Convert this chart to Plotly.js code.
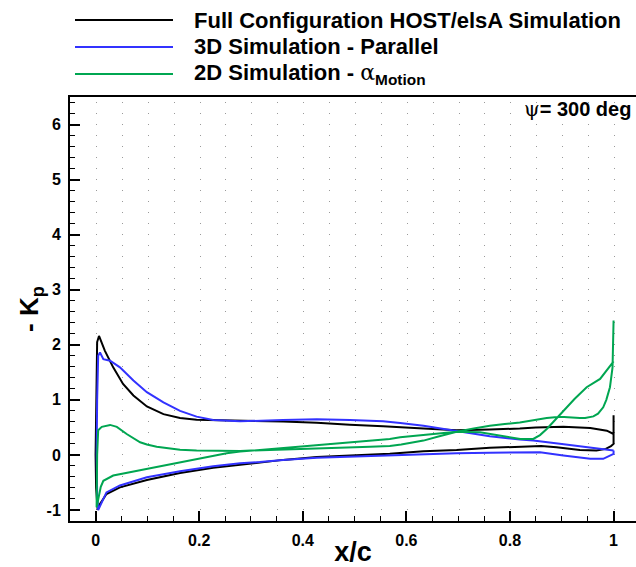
<!DOCTYPE html>
<html>
<head>
<meta charset="utf-8">
<script src="https://cdn.plot.ly/plotly-3.0.1.min.js"></script>
<style>
html,body{margin:0;padding:0;background:#fff;overflow:hidden;}
#chart{width:636px;height:567px;}
</style>
</head>
<body>
<div id="chart"></div>
<script>
// ---- Data ----
const seriesNames = [
  "Full Configuration HOST/elsA Simulation",
  "3D Simulation - Parallel",
  "2D Simulation - α<sub>Motion</sub>"
];

// Full Configuration HOST/elsA Simulation (black): TE -> upper -> LE -> lower -> TE
const xFull = [1.0,0.987,0.955,0.903,0.85,0.819,0.761,0.697,0.633,0.588,0.555,0.491,0.427,0.362,0.298,0.227,0.195,0.163,0.131,0.099,0.073,0.053,0.034,0.018,0.0066,0.003,0.001,0.0,0.001,0.004,
  0.0085,0.021,0.047,0.072,0.099,0.131,0.163,0.227,0.279,0.317,0.362,0.427,0.491,0.568,0.633,0.697,0.761,0.819,0.86,0.89,0.935,0.967,0.985,0.995,1.0,1.0];
const kpFull = [0.38,0.44,0.49,0.51,0.50,0.48,0.46,0.45,0.48,0.51,0.52,0.55,0.585,0.605,0.615,0.625,0.64,0.67,0.74,0.88,1.08,1.29,1.59,1.89,2.16,2.05,1.0,0.0,-0.6,-1.0,
  -0.89,-0.71,-0.59,-0.52,-0.455,-0.39,-0.33,-0.235,-0.175,-0.14,-0.09,-0.04,-0.01,0.02,0.065,0.09,0.13,0.15,0.16,0.14,0.09,0.08,0.11,0.16,0.2,0.72];

// 3D Simulation - Parallel (blue)
const x3D = [1.0,0.95,0.935,0.9,0.845,0.819,0.761,0.742,0.697,0.633,0.588,0.555,0.491,0.427,0.362,0.298,0.279,0.227,0.195,0.163,0.131,0.099,0.073,0.047,0.028,0.015,0.0085,0.005,0.003,0.002,0.003,0.005,
  0.009,0.021,0.047,0.072,0.099,0.131,0.163,0.227,0.279,0.317,0.362,0.427,0.491,0.568,0.633,0.697,0.761,0.819,0.858,0.903,0.955,0.98,1.0,1.0];
const kp3D = [0.08,0.14,0.17,0.2,0.26,0.28,0.34,0.37,0.43,0.53,0.58,0.61,0.635,0.65,0.635,0.61,0.61,0.635,0.695,0.80,0.955,1.14,1.35,1.59,1.71,1.74,1.86,1.8,1.0,0.0,-0.7,-1.0,
  -0.92,-0.68,-0.555,-0.48,-0.405,-0.35,-0.295,-0.205,-0.15,-0.13,-0.09,-0.05,-0.03,-0.01,0.01,0.03,0.04,0.05,0.05,-0.01,-0.07,-0.07,0.02,0.08];

// 2D Simulation - alpha_Motion (green)
const x2D = [1.0,0.999,0.998,0.993,0.986,0.98,0.97,0.961,0.945,0.935,0.915,0.897,0.871,0.845,0.819,0.79,0.761,0.73,0.697,0.66,0.633,0.59,0.568,0.53,0.491,0.44,0.395,0.35,0.3,0.279,0.227,0.195,0.163,0.131,0.118,0.099,0.086,0.06,0.041,0.028,0.012,0.005,0.003,0.002,
  0.006,0.01,0.015,0.034,0.066,0.099,0.131,0.163,0.195,0.227,0.253,0.279,0.317,0.395,0.491,0.568,0.588,0.65,0.697,0.742,0.761,0.8,0.82,0.845,0.858,0.871,0.903,0.925,0.948,0.974,0.996,1.0];
const kp2D = [2.44,2.0,1.59,1.23,1.0,0.865,0.75,0.70,0.67,0.67,0.69,0.695,0.67,0.63,0.59,0.56,0.53,0.48,0.42,0.33,0.26,0.19,0.16,0.15,0.14,0.125,0.11,0.095,0.08,0.07,0.075,0.08,0.095,0.13,0.15,0.19,0.23,0.38,0.51,0.545,0.51,0.45,0.0,-0.95,
  -0.75,-0.58,-0.47,-0.375,-0.315,-0.255,-0.195,-0.135,-0.07,-0.01,0.03,0.06,0.09,0.15,0.23,0.29,0.32,0.38,0.42,0.41,0.38,0.32,0.29,0.29,0.36,0.47,0.80,1.02,1.23,1.38,1.65,1.7];

const xTickVals = [0,0.2,0.4,0.6,0.8,1];
const xTickText = ["0","0.2","0.4","0.6","0.8","1"];
const yTickVals = [-1,0,1,2,3,4,5,6];
const yTickText = ["-1","0","1","2","3","4","5","6"];

// ---- Styles ----
const colors = ["#000000","#3232ff","#00a651"];
const FONT = "Liberation Sans, Arial, Helvetica, sans-serif";
const SERIF = "DejaVu Serif, Liberation Serif, serif";

const traces = [
  {x:xFull, y:kpFull, name:seriesNames[0]},
  {x:x3D, y:kp3D, name:seriesNames[1]},
  {x:x2D, y:kp2D, name:seriesNames[2]}
].map((t,i)=>Object.assign(t,{type:"scatter",mode:"lines",line:{color:colors[i],width:2},showlegend:false,hoverinfo:"skip"}));

// plot area in pixels: left 70, right 636, top 97, bottom 521
const L=70, R=636, T=97, B=521;
const px2paperX = p => (p-L)/(R-L);
const py2paperY = p => (B-p)/(B-T);

const legendRows = [20,47,74];
const shapes = legendRows.map((py,i)=>({
  type:"line", xref:"paper", yref:"paper",
  x0:px2paperX(75), x1:px2paperX(173), y0:py2paperY(py), y1:py2paperY(py),
  line:{color:colors[i],width:2}
}));
const legendTexts = [
  "<b>Full Configuration HOST/elsA Simulation</b>",
  "<b>3D Simulation - Parallel</b>",
  "<b>2D Simulation - </b><span style='font-family:"+SERIF+";'>α</span><sub><b>Motion</b></sub>"
];
const annotations = legendRows.map((py,i)=>({
  xref:"paper", yref:"paper", x:px2paperX(192), y:py2paperY(py),
  xanchor:"left", yanchor:"middle", showarrow:false,
  text:legendTexts[i], font:{family:FONT,size:22,color:"#000"}
}));
annotations.push({
  xref:"paper", yref:"paper", x:px2paperX(633), y:py2paperY(109),
  xanchor:"right", yanchor:"middle", showarrow:false,
  text:"<span style='font-family:"+SERIF+";'>ψ</span><b>= 300 deg</b>",
  font:{family:FONT,size:20,color:"#000"}
});

const gridDash = "1px,24.9px";
const layout = {
  width:636, height:567,
  margin:{l:L, r:636-R, t:T, b:567-B, pad:0},
  paper_bgcolor:"#fff", plot_bgcolor:"#fff",
  font:{family:FONT, color:"#000"},
  xaxis:{
    range:[-0.0494,1.0433], tickmode:"array", tickvals:xTickVals, ticktext:xTickText,
    ticks:"inside", ticklen:10, tickwidth:2, tickcolor:"#000",
    showline:true, linewidth:2, linecolor:"#000", mirror:true,
    showgrid:false, zeroline:false,
    tickfont:{family:FONT,size:16,weight:"bold"},
    ticklabelstandoff:4,
    minor:{tick0:0, dtick:0.05, ticks:"inside", ticklen:5, tickwidth:1, tickcolor:"#000", showgrid:false},
    title:{text:"<b>x/c</b>", font:{family:FONT,size:27}, standoff:2}
  },
  yaxis:{
    range:[-1.2,6.5], tickmode:"array", tickvals:yTickVals, ticktext:yTickText,
    ticks:"inside", ticklen:10, tickwidth:2, tickcolor:"#000",
    showline:true, linewidth:2, linecolor:"#000", mirror:false,
    showgrid:true, gridcolor:"#9a9a9a", gridwidth:1, griddash:gridDash, zeroline:false,
    tickfont:{family:FONT,size:16,weight:"bold"},
    ticklabelstandoff:4,
    minor:{tick0:0, dtick:0.2, ticks:"inside", ticklen:5, tickwidth:1, tickcolor:"#000",
           showgrid:true, gridcolor:"#9a9a9a", gridwidth:1, griddash:gridDash},
    title:{text:"<b>- K<sub>p</sub></b>", font:{family:FONT,size:26}, standoff:0}
  },
  shapes:shapes,
  annotations:annotations
};

Plotly.newPlot("chart", traces, layout, {displayModeBar:false, staticPlot:true});
</script>
</body>
</html>
